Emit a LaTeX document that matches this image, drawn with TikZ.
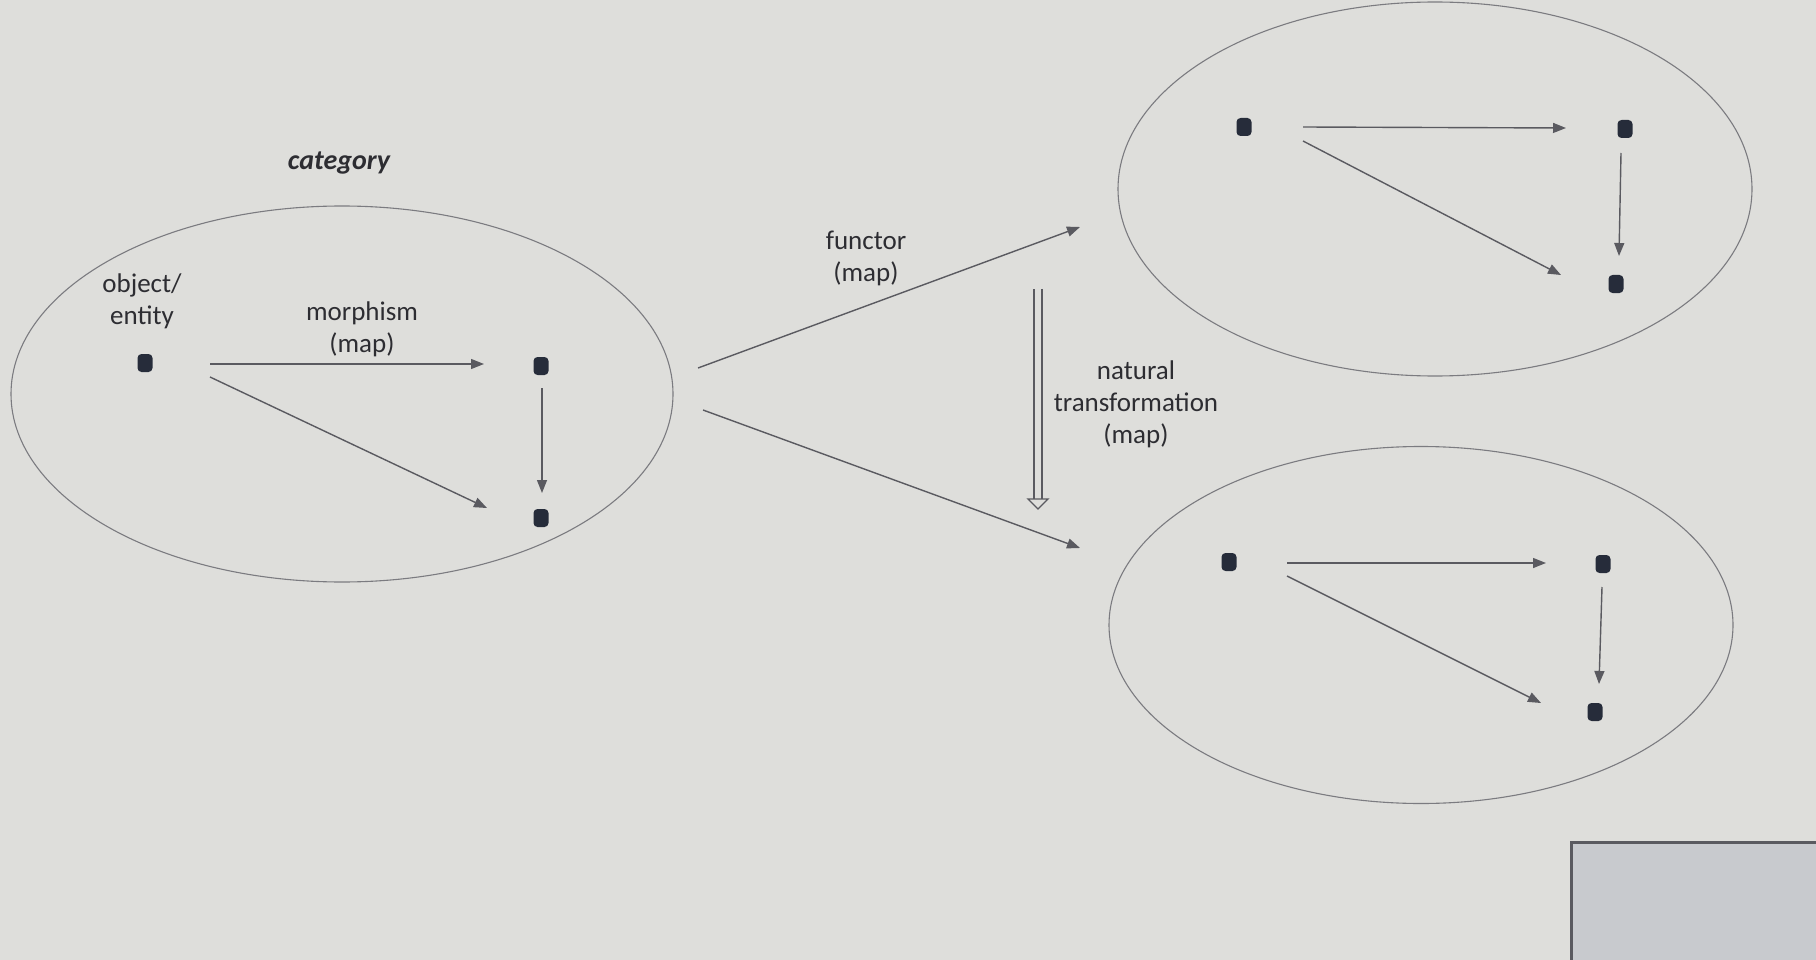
\documentclass[tikz,border=0pt]{standalone}
\usepackage{fontspec}
\setmainfont{Carlito}
\usetikzlibrary{shapes.geometric,arrows.meta,calc}
\definecolor{bg}{RGB}{222,222,219}
\definecolor{txt}{RGB}{45,45,50}
\definecolor{ln}{RGB}{90,90,96}
\definecolor{dotc}{RGB}{38,44,58}
\definecolor{thumb}{RGB}{200,202,206}
\tikzset{
  cat/.style={ellipse, draw=ln!80, line width=1.1pt, inner sep=0pt},
  obj/.style={rectangle, rounded corners=4pt, fill=dotc, minimum width=15pt, minimum height=18pt, inner sep=0pt},
  mor/.style={draw=ln, line width=1.4pt, -{Triangle[length=13pt,width=10pt]}},
  lbl/.style={text=txt, align=center, font=\fontsize{27}{32}\selectfont},
  natshaft/.style={draw=ln, line width=1.3pt, double=bg, double distance=6.5pt},
  nathead/.style={draw=ln, line width=1.3pt, fill=bg, line join=miter}
}
\begin{document}
\begin{tikzpicture}[x=1pt,y=-1pt]
\useasboundingbox (0,0) rectangle (1816,960);
\fill[bg] (0,0) rectangle (1816,960);
% thumbnail window in the corner
\fill[thumb] (1570,841) rectangle (1816,960);
\draw[ln, line width=3pt] (1571,960) -- (1571,842) -- (1816,842);

% left category
\node[cat, minimum width=662pt, minimum height=376pt] (C1) at (342,394) {};
\node[lbl, font=\fontsize{28}{32}\selectfont\bfseries\itshape] (tcat) at (339,163) {category};
\node[lbl] (tobj) at (142,301) {object/\\entity};
\node[lbl] (tmor) at (362,329) {morphism\\(map)};
\node[obj] (a1) at (145,363) {};
\node[obj] (b1) at (541,366) {};
\node[obj] (c1) at (541,518) {};
\coordinate (a1h) at (210,364); \coordinate (b1h) at (484,364);
\coordinate (a1d) at (210,377); \coordinate (c1d) at (487,508);
\coordinate (b1v) at (542,388); \coordinate (c1v) at (542,493);
\draw[mor] (a1h) -- (b1h);
\draw[mor] (a1d) -- (c1d);
\draw[mor] (b1v) -- (c1v);

% functors
\coordinate (f1s) at (698,368); \coordinate (f1e) at (1080,227);
\coordinate (f2s) at (703,410); \coordinate (f2e) at (1080,548);
\draw[mor] (f1s) -- (f1e);
\draw[mor] (f2s) -- (f2e);
\node[lbl] (tfun) at (866,258) {functor\\(map)};

% natural transformation
\coordinate (ns) at (1038,289); \coordinate (nm) at (1038,499); \coordinate (ne) at (1038,509);
\draw[natshaft] (ns) -- (nm);
\draw[nathead] ($(nm)+(-10,0)$) -- (ne) -- ($(nm)+(10,0)$) -- cycle;
\node[lbl] (tnat) at (1136,404) {natural\\transformation\\(map)};

% top-right category
\node[cat, minimum width=634pt, minimum height=374pt] (C2) at (1435,189) {};
\node[obj] (a2) at (1244,127) {};
\node[obj] (b2) at (1625,129) {};
\node[obj] (c2) at (1616,284) {};
\coordinate (a2h) at (1303,127); \coordinate (b2h) at (1566,128);
\coordinate (a2d) at (1303,141); \coordinate (c2d) at (1561,275);
\coordinate (b2v) at (1621,153); \coordinate (c2v) at (1619,256);
\draw[mor] (a2h) -- (b2h);
\draw[mor] (a2d) -- (c2d);
\draw[mor] (b2v) -- (c2v);

% bottom-right category
\node[cat, minimum width=624pt, minimum height=357pt] (C3) at (1421,625) {};
\node[obj] (a3) at (1229,562) {};
\node[obj] (b3) at (1603,564) {};
\node[obj] (c3) at (1595,712) {};
\coordinate (a3h) at (1287,563); \coordinate (b3h) at (1546,563);
\coordinate (a3d) at (1287,576); \coordinate (c3d) at (1541,703);
\coordinate (b3v) at (1602,587); \coordinate (c3v) at (1599,684);
\draw[mor] (a3h) -- (b3h);
\draw[mor] (a3d) -- (c3d);
\draw[mor] (b3v) -- (c3v);
\end{tikzpicture}
\end{document}
